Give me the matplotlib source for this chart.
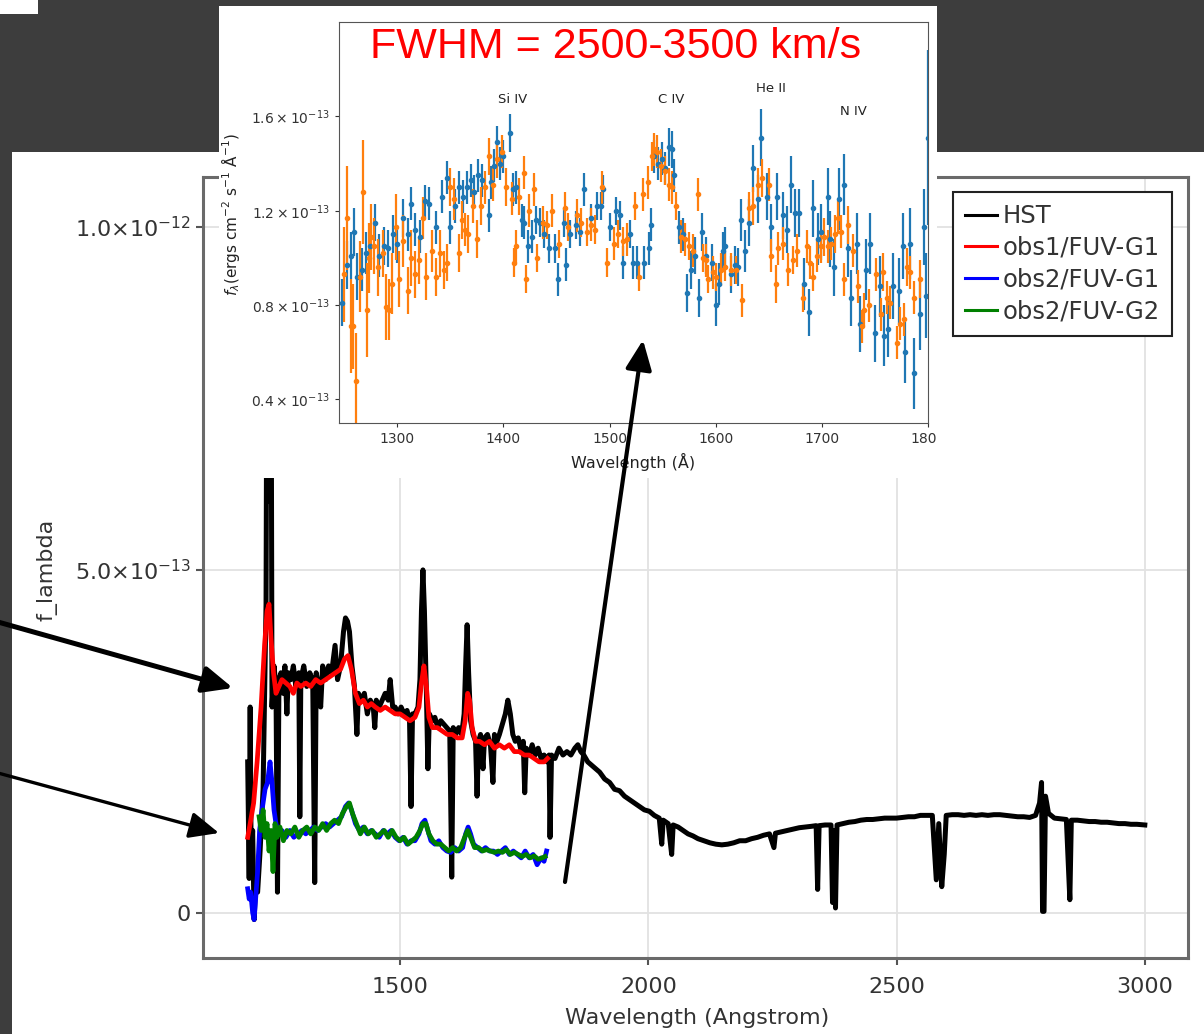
import numpy as np
import matplotlib
matplotlib.use('Agg')
import matplotlib.pyplot as plt
from matplotlib.patches import Rectangle, FancyArrowPatch
from matplotlib.transforms import Bbox, TransformedBbox

plt.rcParams['mathtext.fontset'] = 'dejavusans'

# ---------------------------------------------------------------- data
# main panel: fluxes in units of 1e-13 erg/cm2/s/A
hst_wave = [1193, 1196, 1198, 1200, 1203, 1206, 1209, 1213, 1218, 1224, 1230, 1233, 1236, 1239,
            1242, 1246, 1250, 1253, 1256, 1260, 1264, 1268, 1272, 1275, 1280, 1285, 1290, 1296,
            1298, 1300, 1306, 1312, 1318, 1324, 1328, 1331, 1336, 1340, 1344, 1350, 1356, 1362,
            1369, 1374, 1380, 1386, 1390, 1394, 1398, 1403, 1408, 1413, 1416, 1422, 1428, 1434,
            1440, 1446, 1449, 1452, 1458, 1464, 1470, 1476, 1480, 1485, 1490, 1496, 1502, 1508,
            1514, 1519, 1522, 1525, 1530, 1536, 1540, 1543, 1546, 1549, 1553, 1556, 1559, 1565,
            1570, 1576, 1582, 1588, 1594, 1600, 1604, 1607, 1612, 1618, 1624, 1629, 1632, 1635,
            1638, 1642, 1647, 1652, 1655, 1658, 1662, 1667, 1670, 1676, 1682, 1687, 1690, 1695,
            1700, 1706, 1712, 1717, 1722, 1727, 1732, 1738, 1744, 1748, 1751, 1754, 1760, 1766,
            1772, 1778, 1784, 1790, 1796, 1800, 1802, 1805, 1812, 1820, 1828, 1836, 1844, 1852,
            1858, 1864, 1870, 1878, 1886, 1894, 1902, 1912, 1922, 1932, 1942, 1952, 1962, 1972,
            1982, 1992, 2002, 2012, 2022, 2027, 2030, 2040, 2047, 2050, 2060, 2070, 2080, 2090,
            2100, 2112, 2124, 2136, 2148, 2160, 2172, 2184, 2196, 2208, 2220, 2232, 2244, 2253,
            2256, 2268, 2280, 2292, 2304, 2316, 2328, 2338, 2341, 2344, 2356, 2368, 2371, 2374,
            2377, 2380, 2392, 2404, 2416, 2428, 2440, 2452, 2464, 2476, 2488, 2500, 2512, 2524,
            2536, 2548, 2560, 2572, 2580, 2585, 2591, 2596, 2600, 2612, 2624, 2636, 2648, 2660,
            2672, 2684, 2696, 2708, 2720, 2732, 2744, 2756, 2768, 2780, 2788, 2792, 2794, 2797,
            2800, 2806, 2818, 2830, 2842, 2849, 2852, 2864, 2876, 2888, 2900, 2912, 2924, 2936,
            2948, 2960, 2972, 2984, 3000]
hst_flux = [2.2, 0.5, 3.0, 0.8, 1.2, -0.1, 0.4, 0.3, 0.9, 1.8, 4.5, 12.0, 6.0, 12.0,
            3.0, 3.6, 3.3, 0.3, 3.4, 3.5, 3.2, 3.6, 2.9, 3.5, 3.4, 3.6, 3.3, 3.5,
            1.4, 3.4, 3.6, 3.3, 3.5, 3.4, 0.44, 3.5, 3.3, 3.0, 3.6, 3.4, 3.6, 3.5,
            3.9, 3.4, 3.6, 4.1, 4.3, 4.25, 4.1, 3.6, 3.3, 2.6, 3.2, 3.1, 3.2, 2.9,
            3.1, 3.0, 2.7, 3.1, 3.0, 3.1, 3.2, 3.1, 3.4, 3.0, 3.0, 2.9, 3.0, 2.9,
            2.95, 2.8, 1.55, 2.9, 2.9, 3.0, 3.4, 4.4, 5.0, 4.4, 3.2, 2.1, 2.9, 2.8,
            2.85, 2.7, 2.8, 2.75, 2.7, 2.65, 0.52, 2.7, 2.6, 2.7, 2.6, 2.9, 3.6, 4.2,
            3.5, 2.8, 2.6, 2.5, 1.7, 2.5, 2.6, 2.1, 2.55, 2.6, 2.45, 1.9, 2.6, 2.5,
            2.6, 2.75, 2.9, 3.1, 2.9, 2.6, 2.5, 2.55, 2.35, 2.5, 1.75, 2.4, 2.3, 2.45,
            2.3, 2.4, 2.25, 2.3, 2.2, 2.3, 1.1, 2.3, 2.25, 2.4, 2.3, 2.35, 2.3, 2.4,
            2.45, 2.35, 2.3, 2.2, 2.15, 2.1, 2.05, 1.95, 1.9, 1.8, 1.78, 1.7, 1.65, 1.6,
            1.55, 1.5, 1.48, 1.42, 1.38, 1.0, 1.35, 1.3, 0.85, 1.28, 1.25, 1.2, 1.15, 1.12,
            1.08, 1.05, 1.02, 1.0, 0.99, 1.0, 1.02, 1.05, 1.05, 1.08, 1.1, 1.13, 1.15, 0.95,
            1.16, 1.18, 1.2, 1.22, 1.24, 1.25, 1.26, 1.27, 0.34, 1.27, 1.28, 1.28, 0.15, 1.2,
            0.07, 1.28, 1.3, 1.32, 1.33, 1.35, 1.36, 1.36, 1.37, 1.38, 1.38, 1.38, 1.39, 1.4,
            1.4, 1.42, 1.42, 1.42, 0.48, 1.3, 0.38, 0.85, 1.42, 1.43, 1.43, 1.42, 1.43, 1.42,
            1.43, 1.42, 1.43, 1.43, 1.42, 1.41, 1.4, 1.4, 1.39, 1.42, 1.6, 1.9, 0.02, 0.02,
            1.7, 1.45, 1.38, 1.37, 1.36, 0.19, 1.35, 1.35, 1.34, 1.33, 1.33, 1.32, 1.32, 1.31,
            1.3, 1.3, 1.29, 1.29, 1.28]

obs1_g1_wave = [1193, 1198, 1205, 1212, 1220, 1227, 1232, 1236, 1240, 1245, 1250, 1256, 1262,
                1270, 1278, 1285, 1292, 1300, 1310, 1320, 1330, 1340, 1350, 1360, 1370, 1380,
                1388, 1395, 1402, 1410, 1418, 1426, 1434, 1442, 1450, 1460, 1470, 1480, 1490,
                1500, 1510, 1520, 1530, 1538, 1543, 1548, 1553, 1558, 1565, 1575, 1585, 1595,
                1605, 1615, 1625, 1631, 1636, 1640, 1645, 1652, 1660, 1670, 1680, 1690, 1700,
                1710, 1720, 1730, 1740, 1750, 1760, 1770, 1780, 1790, 1797]
obs1_g1_flux = [1.1, 1.3, 1.6, 2.2, 3.0, 3.9, 4.4, 4.5, 4.0, 3.5, 3.2, 3.3, 3.4,
                3.35, 3.3, 3.2, 3.35, 3.3, 3.35, 3.3, 3.4, 3.35, 3.4, 3.45, 3.5, 3.55,
                3.7, 3.75, 3.55, 3.2, 3.05, 3.1, 3.0, 3.05, 3.0, 2.95, 3.0, 2.95, 2.9,
                2.9, 2.85, 2.8, 2.85, 3.0, 3.35, 3.6, 3.3, 2.85, 2.7, 2.7, 2.65, 2.6,
                2.6, 2.55, 2.55, 2.8, 3.2, 3.1, 2.7, 2.5, 2.5, 2.45, 2.5, 2.4, 2.45,
                2.4, 2.45, 2.35, 2.35, 2.3, 2.3, 2.25, 2.2, 2.2, 2.25]

obs2_g1_wave = [1193, 1196, 1199, 1203, 1206, 1209, 1213, 1217, 1222, 1228, 1233, 1238, 1242,
                1246, 1250, 1255, 1262, 1270, 1278, 1286, 1294, 1302, 1310, 1318, 1326, 1334,
                1342, 1350, 1358, 1366, 1374, 1382, 1390, 1396, 1402, 1410, 1418, 1426, 1434,
                1442, 1450, 1458, 1466, 1474, 1482, 1490, 1498, 1506, 1514, 1522, 1530, 1538,
                1544, 1550, 1556, 1562, 1570, 1578, 1586, 1594, 1602, 1610, 1618, 1626, 1632,
                1637, 1642, 1648, 1656, 1664, 1672, 1680, 1688, 1696, 1704, 1712, 1720, 1728,
                1736, 1744, 1752, 1760, 1768, 1776, 1784, 1790, 1795]
obs2_g1_flux = [0.35, 0.2, 0.3, 0.0, -0.1, 0.2, 0.6, 1.2, 1.5, 1.8, 1.9, 2.2, 1.9,
                1.5, 1.3, 1.15, 1.2, 1.1, 1.2, 1.1, 1.15, 1.2, 1.15, 1.2, 1.25, 1.2,
                1.25, 1.3, 1.25, 1.3, 1.35, 1.4, 1.55, 1.6, 1.5, 1.3, 1.2, 1.25, 1.15,
                1.2, 1.15, 1.1, 1.2, 1.15, 1.2, 1.1, 1.05, 1.1, 1.0, 1.05, 1.05, 1.15,
                1.3, 1.35, 1.2, 1.05, 1.0, 1.05, 0.95, 0.9, 0.88, 0.95, 0.9, 0.95, 1.15,
                1.25, 1.15, 1.0, 0.95, 0.9, 0.95, 0.9, 0.9, 0.85, 0.9, 0.95, 0.85, 0.9,
                0.85, 0.8, 0.9, 0.8, 0.85, 0.7, 0.8, 0.75, 0.9]

obs2_g2_wave = [1216, 1220, 1224, 1228, 1232, 1236, 1240, 1244, 1248, 1252, 1258, 1265, 1272,
                1280, 1288, 1296, 1304, 1312, 1320, 1328, 1336, 1344, 1352, 1360, 1368, 1376,
                1384, 1392, 1398, 1404, 1412, 1420, 1428, 1436, 1444, 1452, 1460, 1468, 1476,
                1484, 1492, 1500, 1508, 1516, 1524, 1532, 1540, 1546, 1552, 1558, 1566, 1574,
                1582, 1590, 1598, 1606, 1614, 1622, 1630, 1636, 1642, 1650, 1658, 1666, 1674,
                1682, 1690, 1698, 1706, 1714, 1722, 1730, 1738, 1746, 1754, 1762, 1770, 1778,
                1786, 1792]
obs2_g2_flux = [1.4, 1.2, 1.5, 1.1, 1.3, 0.9, 1.2, 0.6, 1.3, 1.1, 1.25, 1.05, 1.2,
                1.15, 1.25, 1.1, 1.2, 1.25, 1.15, 1.25, 1.2, 1.3, 1.2, 1.3, 1.35, 1.3,
                1.45, 1.55, 1.6, 1.45, 1.3, 1.15, 1.25, 1.15, 1.2, 1.1, 1.15, 1.2, 1.1,
                1.2, 1.1, 1.05, 1.1, 1.0, 1.05, 1.1, 1.2, 1.3, 1.3, 1.15, 1.05, 1.0,
                1.0, 0.95, 0.9, 0.95, 0.9, 0.95, 1.1, 1.2, 1.1, 0.95, 0.95, 0.9, 0.92,
                0.9, 0.88, 0.9, 0.88, 0.92, 0.85, 0.88, 0.85, 0.82, 0.85, 0.8, 0.83, 0.78,
                0.8, 0.82]

series_labels = ['HST', 'obs1/FUV-G1', 'obs2/FUV-G1', 'obs2/FUV-G2']

# inset: two binned spectra with errors, units of 1e-13
orange_wave = [1250, 1253, 1256, 1258, 1261, 1265, 1268, 1271, 1273, 1275, 1278, 1282, 1286,
               1289, 1292, 1295, 1299, 1302, 1305, 1310, 1313, 1317, 1320, 1324, 1327, 1333,
               1336, 1340, 1344, 1347, 1350, 1353, 1358, 1361, 1364, 1367, 1371, 1375, 1379,
               1383, 1386, 1390, 1394, 1399, 1402, 1408, 1410, 1412, 1415, 1419, 1421, 1424,
               1429, 1432, 1437, 1441, 1446, 1452, 1458, 1461, 1469, 1473, 1479, 1482, 1486,
               1493, 1498, 1504, 1508, 1513, 1516, 1524, 1528, 1531, 1536, 1540, 1542, 1545,
               1548, 1552, 1556, 1559, 1563, 1567, 1571, 1575, 1579, 1583, 1588, 1591, 1593,
               1597, 1600, 1605, 1609, 1614, 1619, 1625, 1631, 1635, 1640, 1644, 1650, 1652,
               1657, 1659, 1663, 1668, 1673, 1677, 1682, 1686, 1689, 1692, 1695, 1699, 1702,
               1706, 1709, 1712, 1715, 1718, 1721, 1725, 1729, 1734, 1738, 1740, 1744, 1751,
               1756, 1758, 1761, 1764, 1771, 1774, 1777, 1780, 1783, 1787, 1792]
orange_flux = [0.93, 1.17, 0.71, 0.71, 0.48, 0.92, 1.28, 0.78, 1.00, 1.09, 1.05, 0.96, 1.02,
               0.79, 0.78, 0.89, 1.13, 0.91, 1.07, 0.86, 1.00, 0.93, 0.99, 1.17, 0.92, 1.03,
               0.92, 1.02, 0.95, 0.98, 1.30, 1.25, 1.02, 1.16, 1.12, 1.10, 1.22, 1.08, 1.22,
               1.30, 1.43, 1.31, 1.42, 1.45, 1.30, 1.25, 0.98, 1.05, 1.26, 1.36, 0.91, 1.20,
               1.29, 1.00, 1.15, 1.14, 1.20, 1.06, 1.21, 1.13, 1.18, 1.15, 1.11, 1.14, 1.12,
               1.30, 0.98, 1.06, 1.10, 1.07, 1.08, 1.22, 0.92, 1.27, 1.32, 1.43, 1.46, 1.45,
               1.39, 1.37, 1.31, 1.30, 1.22, 1.09, 1.08, 1.05, 1.03, 1.27, 1.00, 0.99, 0.91,
               0.94, 0.92, 0.95, 0.96, 0.95, 0.95, 0.82, 1.21, 1.22, 1.31, 1.34, 1.31, 1.01,
               0.89, 1.04, 1.06, 0.95, 0.99, 1.03, 0.83, 1.05, 0.98, 0.92, 1.01, 1.05, 1.09,
               1.05, 1.06, 1.10, 1.17, 1.11, 0.91, 1.14, 1.03, 0.88, 0.71, 0.78, 0.80, 0.93,
               0.76, 0.94, 0.83, 0.81, 0.64, 0.72, 0.74, 0.96, 0.94, 0.83, 0.91]
orange_err = [0.20, 0.22, 0.20, 0.18, 0.20, 0.15, 0.22, 0.20, 0.15, 0.14, 0.12, 0.12, 0.10,
              0.14, 0.13, 0.13, 0.14, 0.12, 0.11, 0.10, 0.12, 0.10, 0.10, 0.09, 0.10, 0.09,
              0.08, 0.10, 0.08, 0.08, 0.08, 0.09, 0.08, 0.08, 0.07, 0.08, 0.07, 0.08, 0.08,
              0.07, 0.08, 0.07, 0.08, 0.07, 0.08, 0.07, 0.06, 0.07, 0.08, 0.07, 0.06, 0.07,
              0.07, 0.06, 0.07, 0.06, 0.07, 0.06, 0.07, 0.06, 0.07, 0.06, 0.06, 0.07, 0.06,
              0.07, 0.06, 0.07, 0.06, 0.06, 0.07, 0.06, 0.06, 0.07, 0.07, 0.06, 0.07, 0.07,
              0.07, 0.06, 0.07, 0.07, 0.06, 0.07, 0.07, 0.06, 0.07, 0.07, 0.06, 0.07, 0.06,
              0.07, 0.06, 0.07, 0.06, 0.07, 0.06, 0.07, 0.07, 0.08, 0.07, 0.08, 0.07, 0.07,
              0.08, 0.07, 0.07, 0.07, 0.06, 0.07, 0.06, 0.07, 0.07, 0.06, 0.07, 0.07, 0.08,
              0.07, 0.07, 0.08, 0.07, 0.07, 0.07, 0.08, 0.07, 0.07, 0.07, 0.07, 0.07, 0.07,
              0.07, 0.08, 0.07, 0.07, 0.07, 0.07, 0.07, 0.08, 0.07, 0.07, 0.08]

blue_wave = [1248, 1253, 1256, 1259, 1262, 1267, 1270, 1274, 1279, 1283, 1287, 1291, 1296,
             1300, 1305, 1310, 1313, 1317, 1321, 1326, 1330, 1336, 1342, 1347, 1350, 1354,
             1358, 1362, 1366, 1369, 1372, 1376, 1380, 1386, 1388, 1391, 1394, 1397, 1400,
             1406, 1409, 1412, 1417, 1419, 1423, 1427, 1431, 1434, 1438, 1443, 1449, 1451,
             1457, 1459, 1463, 1468, 1472, 1476, 1482, 1488, 1492, 1494, 1500, 1506, 1510,
             1513, 1519, 1522, 1526, 1532, 1537, 1539, 1542, 1546, 1549, 1552, 1556, 1559,
             1561, 1565, 1569, 1573, 1577, 1580, 1584, 1587, 1591, 1596, 1600, 1603, 1607,
             1609, 1614, 1618, 1621, 1624, 1628, 1631, 1635, 1640, 1643, 1648, 1652, 1658,
             1663, 1667, 1671, 1675, 1678, 1683, 1688, 1692, 1696, 1699, 1706, 1708, 1711,
             1716, 1721, 1725, 1727, 1733, 1736, 1742, 1745, 1750, 1755, 1759, 1762, 1767,
             1773, 1776, 1778, 1783, 1787, 1792, 1796, 1798, 1800]
blue_flux = [0.81, 0.97, 1.01, 1.11, 0.92, 0.95, 1.02, 1.05, 1.15, 1.01, 1.05, 1.04, 1.10,
             1.06, 1.17, 1.10, 1.23, 1.12, 1.09, 1.24, 1.23, 1.13, 1.26, 1.34, 1.13, 1.22,
             1.30, 1.26, 1.30, 1.33, 1.28, 1.35, 1.33, 1.18, 1.32, 1.39, 1.49, 1.40, 1.43,
             1.53, 1.29, 1.30, 1.16, 1.15, 1.05, 1.09, 1.16, 1.15, 1.10, 1.04, 1.04, 0.91,
             1.15, 0.97, 1.10, 1.14, 1.11, 1.29, 1.17, 1.22, 1.22, 1.29, 1.13, 1.20, 1.18,
             0.98, 1.10, 0.98, 0.98, 0.98, 1.04, 1.14, 1.43, 1.40, 1.42, 1.38, 1.47, 1.46,
             1.35, 1.13, 1.10, 0.85, 0.95, 1.01, 0.83, 1.11, 1.01, 0.98, 0.80, 0.89, 1.03,
             1.05, 0.93, 0.97, 0.96, 1.16, 1.03, 1.15, 1.38, 1.25, 1.51, 1.26, 1.13, 1.26,
             1.18, 1.12, 1.31, 1.19, 1.19, 0.89, 0.77, 1.21, 1.08, 1.11, 1.26, 1.08, 0.96,
             1.25, 1.31, 1.04, 0.83, 1.06, 0.72, 0.95, 1.06, 0.68, 0.88, 0.67, 0.70, 0.88,
             0.86, 1.05, 0.60, 1.06, 0.51, 0.76, 1.13, 0.84, 1.51]
blue_err = [0.10, 0.10, 0.10, 0.10, 0.10, 0.09, 0.09, 0.09, 0.08, 0.09, 0.08, 0.08, 0.08,
            0.08, 0.08, 0.07, 0.07, 0.07, 0.07, 0.07, 0.07, 0.07, 0.07, 0.07, 0.07, 0.07,
            0.07, 0.07, 0.07, 0.07, 0.07, 0.07, 0.07, 0.07, 0.07, 0.07, 0.07, 0.07, 0.07,
            0.08, 0.07, 0.07, 0.07, 0.07, 0.07, 0.07, 0.06, 0.06, 0.06, 0.06, 0.06, 0.07,
            0.06, 0.07, 0.06, 0.06, 0.06, 0.07, 0.06, 0.06, 0.06, 0.06, 0.06, 0.06, 0.06,
            0.07, 0.06, 0.07, 0.07, 0.07, 0.07, 0.07, 0.07, 0.07, 0.07, 0.07, 0.08, 0.08,
            0.07, 0.07, 0.07, 0.08, 0.08, 0.08, 0.08, 0.08, 0.08, 0.08, 0.09, 0.09, 0.08,
            0.08, 0.08, 0.08, 0.08, 0.09, 0.09, 0.10, 0.10, 0.10, 0.12, 0.10, 0.10, 0.10,
            0.10, 0.10, 0.12, 0.10, 0.10, 0.11, 0.10, 0.12, 0.11, 0.12, 0.12, 0.12, 0.12,
            0.13, 0.13, 0.12, 0.12, 0.13, 0.12, 0.13, 0.13, 0.12, 0.13, 0.13, 0.12, 0.14,
            0.14, 0.14, 0.13, 0.15, 0.15, 0.15, 0.16, 0.18, 0.37]

line_names = ['Si IV', 'C IV', 'He II', 'N IV']
line_label_x = [1409, 1558, 1652, 1730]
line_label_y = [1.67e-13, 1.67e-13, 1.72e-13, 1.62e-13]

unit = 1e-13

# ---------------------------------------------------------------- layout (pixels)
W, H = 1204, 1034


def box(x0, y0, x1, y1):
    return [x0 / W, 1 - y1 / H, (x1 - x0) / W, (y1 - y0) / H]


def pt(x, y):
    return (x / W, 1 - y / H)


fig = plt.figure(figsize=(W / 100, H / 100), dpi=100, facecolor='#3d3d3d')

# white panels (screenshot pieces)
for (x0, y0, x1, y1), z in [((12, 152, W, H), -1), ((219, 6, 937, 478), 2), ((0, 0, 38, 14), -1)]:
    b = box(x0, y0, x1, y1)
    fig.add_artist(Rectangle((b[0], b[1]), b[2], b[3], transform=fig.transFigure,
                             facecolor='white', edgecolor='none', zorder=z))

# ---------------------------------------------------------------- main plot
ax = fig.add_axes(box(203, 177, 1188, 958), zorder=1)
ax.plot(hst_wave, np.array(hst_flux) * unit, color='black', lw=3.6, label=series_labels[0])
ax.plot(obs1_g1_wave, np.array(obs1_g1_flux) * unit, color='red', lw=3.4, label=series_labels[1])
ax.plot(obs2_g1_wave, np.array(obs2_g1_flux) * unit, color='blue', lw=3.4, label=series_labels[2])
ax.plot(obs2_g2_wave, np.array(obs2_g2_flux) * unit, color='green', lw=3.4, label=series_labels[3])

ax.set_xlim(1103, 3087)
ax.set_ylim(-0.66e-13, 1.073e-12)
ax.set_xticks([1500, 2000, 2500, 3000])
ax.set_yticks([0, 5e-13, 1e-12])
ax.set_yticklabels(['0', r'$5.0{\times}10^{-13}$', r'$1.0{\times}10^{-12}$'])
ax.grid(True, color='#e2e2e2', lw=1.3)
ax.set_axisbelow(True)
ax.tick_params(labelsize=16, colors='#555555', labelcolor='#333333', length=5, width=1.5)
ax.tick_params(axis='x', pad=9)
for s in ax.spines.values():
    s.set_color('#6a6a6a')
    s.set_linewidth(2.2)

ax.set_xlabel('Wavelength (Angstrom)', fontsize=16, color='#333333')
ax.xaxis.set_label_coords(0.5015, -0.064)
ax.set_ylabel('f_lambda', fontsize=16, color='#333333')
ax.yaxis.set_label_coords(-0.148, 0.497)

bb = box(953, 192, 1172, 349)
leg = ax.legend(loc='upper right', bbox_to_anchor=(bb[0] + bb[2], bb[1] + bb[3]),
                bbox_transform=fig.transFigure, fontsize=17.5, handlelength=1.3,
                handletextpad=0.25, labelspacing=0.32, borderpad=0.5, borderaxespad=0,
                fancybox=False, framealpha=1, edgecolor='#222222')
leg.get_frame().set_linewidth(1.5)
for t in leg.get_texts():
    t.set_color('#333333')
for h in leg.get_lines():
    h.set_linewidth(2.2)

# ---------------------------------------------------------------- inset
axin = fig.add_axes(box(339, 22, 928, 423), zorder=3)
axin.errorbar(blue_wave, np.array(blue_flux) * unit, yerr=np.array(blue_err) * unit,
              fmt='o', ms=3, color='#1f77b4', elinewidth=1.6, capsize=0)
axin.errorbar(orange_wave, np.array(orange_flux) * unit, yerr=np.array(orange_err) * unit,
              fmt='o', ms=3, color='#ff7f0e', elinewidth=1.6, capsize=0)
axin.set_xlim(1245, 1800)
axin.set_ylim(0.3e-13, 2.0e-13)
axin.set_xticks([1300, 1400, 1500, 1600, 1700, 1800])
axin.set_yticks([0.4e-13, 0.8e-13, 1.2e-13, 1.6e-13])
axin.set_yticklabels([r'$0.4\times10^{-13}$', r'$0.8\times10^{-13}$',
                      r'$1.2\times10^{-13}$', r'$1.6\times10^{-13}$'])
axin.tick_params(labelsize=10, colors='#333333', length=3)
for s in axin.spines.values():
    s.set_color('#555555')
axin.set_xlabel('Wavelength (Å)', fontsize=11.5, color='#222222', labelpad=5)
axin.set_ylabel(r'$f_\lambda$(ergs cm$^{-2}$ s$^{-1}$ Å$^{-1}$)', fontsize=11, color='#222222')
axin.yaxis.set_label_coords(-0.165, 0.52)
for name, lx, ly in zip(line_names, line_label_x, line_label_y):
    axin.text(lx, ly, name, fontsize=9.5, ha='center', va='center', color='#222222')

# clip inset tick labels at the edge of its white panel
clip = TransformedBbox(Bbox.from_bounds(*box(219, 6, 937, 478)), fig.transFigure)
for lbl in axin.get_xticklabels():
    lbl.set_clip_box(clip)
    lbl.set_clip_on(True)

fig.text(*pt(616, 47), 'FWHM = 2500-3500 km/s', color='red', fontsize=31,
         family='Liberation Sans', ha='center', va='center', zorder=6)

# ---------------------------------------------------------------- arrows
for tail, tip, lw in [((-2, 622), (233, 688), 3.6),
                      ((-2, 773), (219, 833), 2.4),
                      ((565, 882), (643, 340), 3.0)]:
    fig.add_artist(FancyArrowPatch(pt(*tail), pt(*tip), transform=fig.transFigure,
                                   arrowstyle='-|>,head_length=0.9,head_width=0.4',
                                   mutation_scale=20, lw=lw, color='black',
                                   shrinkA=0, shrinkB=0, zorder=8))

fig.savefig('out.png', dpi=100, facecolor=fig.get_facecolor())
